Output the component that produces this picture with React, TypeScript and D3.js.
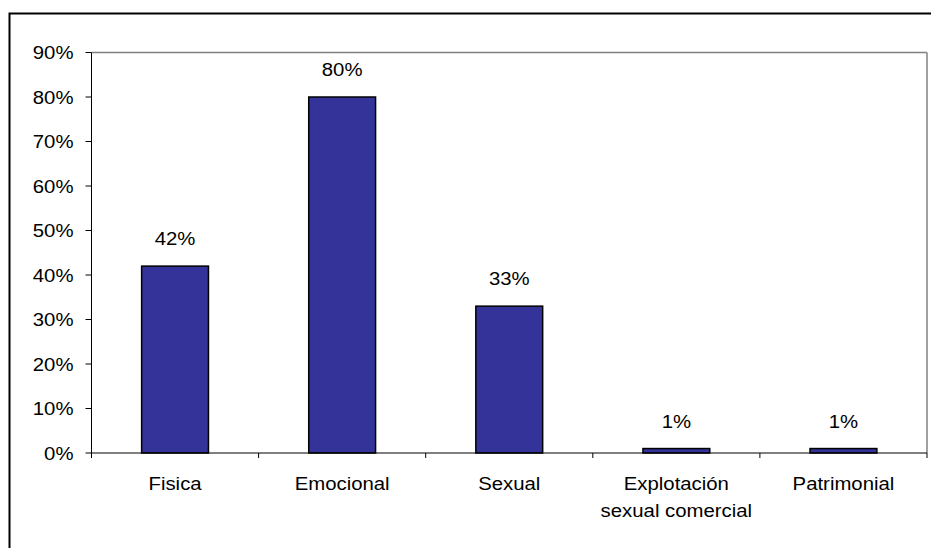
import React from "react";
import * as d3 from "d3";

const categories: string[][] = [
  ["Fisica"],
  ["Emocional"],
  ["Sexual"],
  ["Explotación", "sexual comercial"],
  ["Patrimonial"],
];
const values: number[] = [0.42, 0.8, 0.33, 0.01, 0.01];
const yTicks: number[] = [0, 0.1, 0.2, 0.3, 0.4, 0.5, 0.6, 0.7, 0.8, 0.9];

const W = 931;
const H = 548;
const plot = { left: 91.5, right: 927, top: 52.5, bottom: 453 };
const FONT = "'Liberation Sans', Arial, sans-serif";
const FS = 18.5;
const SX = 1.1;

export default function App() {
  const keys = categories.map((c) => c.join(" "));
  const x = d3
    .scaleBand<string>()
    .domain(keys)
    .range([plot.left, plot.right])
    .paddingInner(0.6)
    .paddingOuter(0.3);
  const y = d3.scaleLinear().domain([0, 0.9]).range([plot.bottom, plot.top]);
  const fmt = d3.format(".0%");
  const step = x.step();
  const catEdges = d3.range(keys.length + 1).map((i) => plot.left + i * step);

  const txt = (
    tx: number,
    ty: number,
    s: string,
    anchor: "start" | "middle" | "end",
    key?: string
  ) => (
    <text
      key={key}
      transform={`translate(${tx},${ty}) scale(${SX},1)`}
      textAnchor={anchor}
      fontFamily={FONT}
      fontSize={FS}
      fill="#000"
    >
      {s}
    </text>
  );

  return (
    <svg
      width={W}
      height={H}
      style={{ position: "absolute", left: 0, top: 0, background: "#fff" }}
    >
      <rect x={0} y={0} width={W} height={H} fill="#fff" />
      {/* chart frame */}
      <rect x={9.5} y={13.5} width={960} height={600} fill="none" stroke="#000" strokeWidth={2} />

      {/* plot area border (top and right) */}
      <line x1={plot.left} x2={plot.right} y1={plot.top} y2={plot.top} stroke="#808080" strokeWidth={1.5} />
      <line x1={plot.right} x2={plot.right} y1={plot.top} y2={plot.bottom} stroke="#808080" strokeWidth={1.5} />

      {/* bars */}
      {values.map((v, i) => (
        <rect
          key={keys[i]}
          x={x(keys[i])}
          y={y(v)}
          width={x.bandwidth()}
          height={y(0) - y(v)}
          fill="#333399"
          stroke="#000"
          strokeWidth={1.5}
        />
      ))}

      {/* value labels */}
      {values.map((v, i) =>
        txt((x(keys[i]) as number) + x.bandwidth() / 2, y(v) - 21, fmt(v), "middle", "v" + i)
      )}

      {/* y axis */}
      <line x1={plot.left} x2={plot.left} y1={plot.top} y2={plot.bottom} stroke="#000" strokeWidth={1} />
      {yTicks.map((t) => (
        <g key={t}>
          <line x1={plot.left - 6} x2={plot.left} y1={y(t)} y2={y(t)} stroke="#000" strokeWidth={1} />
          {txt(plot.left - 18, y(t) + 6.7, fmt(t), "end")}
        </g>
      ))}

      {/* x axis */}
      <line x1={plot.left} x2={plot.right} y1={plot.bottom} y2={plot.bottom} stroke="#000" strokeWidth={1} />
      {catEdges.map((cx, i) => (
        <line key={"t" + i} x1={cx} x2={cx} y1={plot.bottom} y2={plot.bottom + 5} stroke="#000" strokeWidth={1} />
      ))}
      {categories.map((lines, i) => (
        <g key={"c" + i}>
          {lines.map((ln, j) =>
            txt((x(keys[i]) as number) + x.bandwidth() / 2, 489.5 + j * 27, ln, "middle", "l" + j)
          )}
        </g>
      ))}
    </svg>
  );
}
